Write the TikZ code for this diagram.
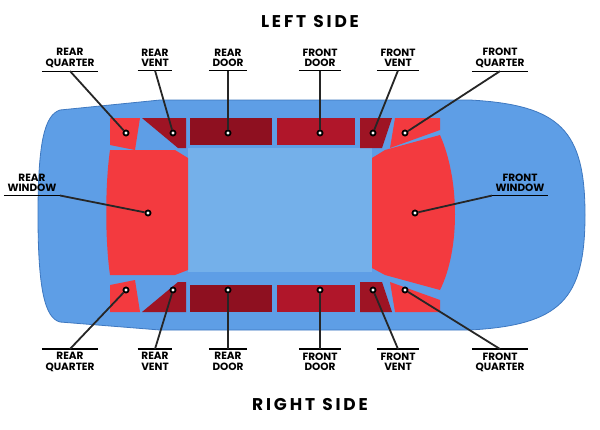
\documentclass[tikz,border=0pt]{standalone}
\usepackage{fontspec}
\setmainfont{Poppins}
\definecolor{body}{HTML}{5E9EE6}
\definecolor{roof}{HTML}{74B0EA}
\definecolor{edge}{HTML}{3E78C0}
\definecolor{win}{HTML}{F33A3F}
\definecolor{dk1}{HTML}{8E1020}
\definecolor{dk2}{HTML}{9E1424}
\definecolor{dk3}{HTML}{B0162A}
\begin{document}
\begin{tikzpicture}[x=1pt,y=-1pt,
 lab/.style={font=\bfseries\fontsize{10.5}{10.5}\selectfont,align=center,text=black},
 dot/.style={circle,fill=white,draw=black,line width=1.8pt,inner sep=1.8pt},
 ln/.style={line width=1.8pt,black!85},
 ul/.style={line width=1.2pt,black}]
\useasboundingbox (0,0) rectangle (600,429);
\fill[white] (0,0) rectangle (600,429);
% car body
\fill[body,draw=edge,line width=0.8pt]
 (60,110) .. controls (45,115) and (38,140) .. (38,215) .. controls (38,290) and (45,318) .. (60,322)
 -- (160,330) -- (470,330) .. controls (560,325) and (585,300) .. (585,215)
 .. controls (585,130) and (560,105) .. (470,100) -- (160,100) -- cycle;
% roof
\fill[roof] (188,148) -- (372,148) -- (372,272) -- (188,272) -- cycle;
% windows
\fill[win] (110,150) -- (175,150) -- (188,158) -- (188,270) -- (175,275) -- (110,275) .. controls (105,240) and (105,185) .. (110,150);
\fill[win] (385,150) -- (440,135) .. controls (460,180) and (460,250) .. (440,290) -- (385,275) -- (372,268) -- (372,158) -- cycle;
% top side
\fill[win] (110,118) -- (140,118) -- (135,150) -- (110,145) -- cycle;
\fill[dk2] (142,118) -- (186,118) -- (186,148) -- (178,148) -- cycle;
\fill[dk1] (190,118) -- (272,118) -- (272,145) -- (190,145) -- cycle;
\fill[dk3] (277,118) -- (355,118) -- (355,145) -- (277,145) -- cycle;
\fill[dk2] (360,118) -- (392,118) -- (382,148) -- (360,148) -- cycle;
\fill[win] (395,118) -- (440,118) -- (440,130) -- (390,148) -- cycle;
% bottom side
\fill[win] (110,312) -- (140,312) -- (135,280) -- (110,285) -- cycle;
\fill[dk2] (142,312) -- (186,312) -- (186,282) -- (178,282) -- cycle;
\fill[dk1] (190,312) -- (272,312) -- (272,285) -- (190,285) -- cycle;
\fill[dk3] (277,312) -- (355,312) -- (355,285) -- (277,285) -- cycle;
\fill[dk2] (360,312) -- (392,312) -- (382,282) -- (360,282) -- cycle;
\fill[win] (395,312) -- (440,312) -- (440,300) -- (390,282) -- cycle;
% titles
\node[font=\bfseries\fontsize{17}{17}\selectfont,text=black] (tl) at (310,22) {L\,E\,F\,T\ \ S\,I\,D\,E};
\node[font=\bfseries\fontsize{17}{17}\selectfont,text=black] (tr) at (310,405) {R\,I\,G\,H\,T\ \ S\,I\,D\,E};
\foreach \n/\t/\lx/\dx in {a/REAR\\QUARTER/70/126, b/REAR\\VENT/155/173, c/REAR\\DOOR/228/228, d/FRONT\\DOOR/320/320, e/FRONT\\VENT/398/373, f/FRONT\\QUARTER/500/405}{
 \node[lab] (t\n) at (\lx,58) {\t};
 \draw[ul] (t\n.south west) -- (t\n.south east);
 \node[dot] (td\n) at (\dx,133) {};
 \draw[ln] (t\n.south) -- (td\n);
 \node[lab,anchor=north] (b\n) at (\lx,349) {\t};
 \draw[ul] (b\n.north west) -- (b\n.north east);
 \node[dot] (bd\n) at (\dx,290) {};
 \draw[ln] (b\n.north) -- (bd\n);
}
\node[lab] (rw) at (32,183) {REAR\\WINDOW};
\draw[ul] (rw.south west) -- (rw.south east);
\node[dot] (rwd) at (148,213) {};
\draw[ln] (rw.south east) -- (rwd);
\node[lab] (fw) at (520,183) {FRONT\\WINDOW};
\draw[ul] (fw.south west) -- (fw.south east);
\node[dot] (fwd) at (415,213) {};
\draw[ln] (fw.south west) -- (fwd);
\end{tikzpicture}
\end{document}
